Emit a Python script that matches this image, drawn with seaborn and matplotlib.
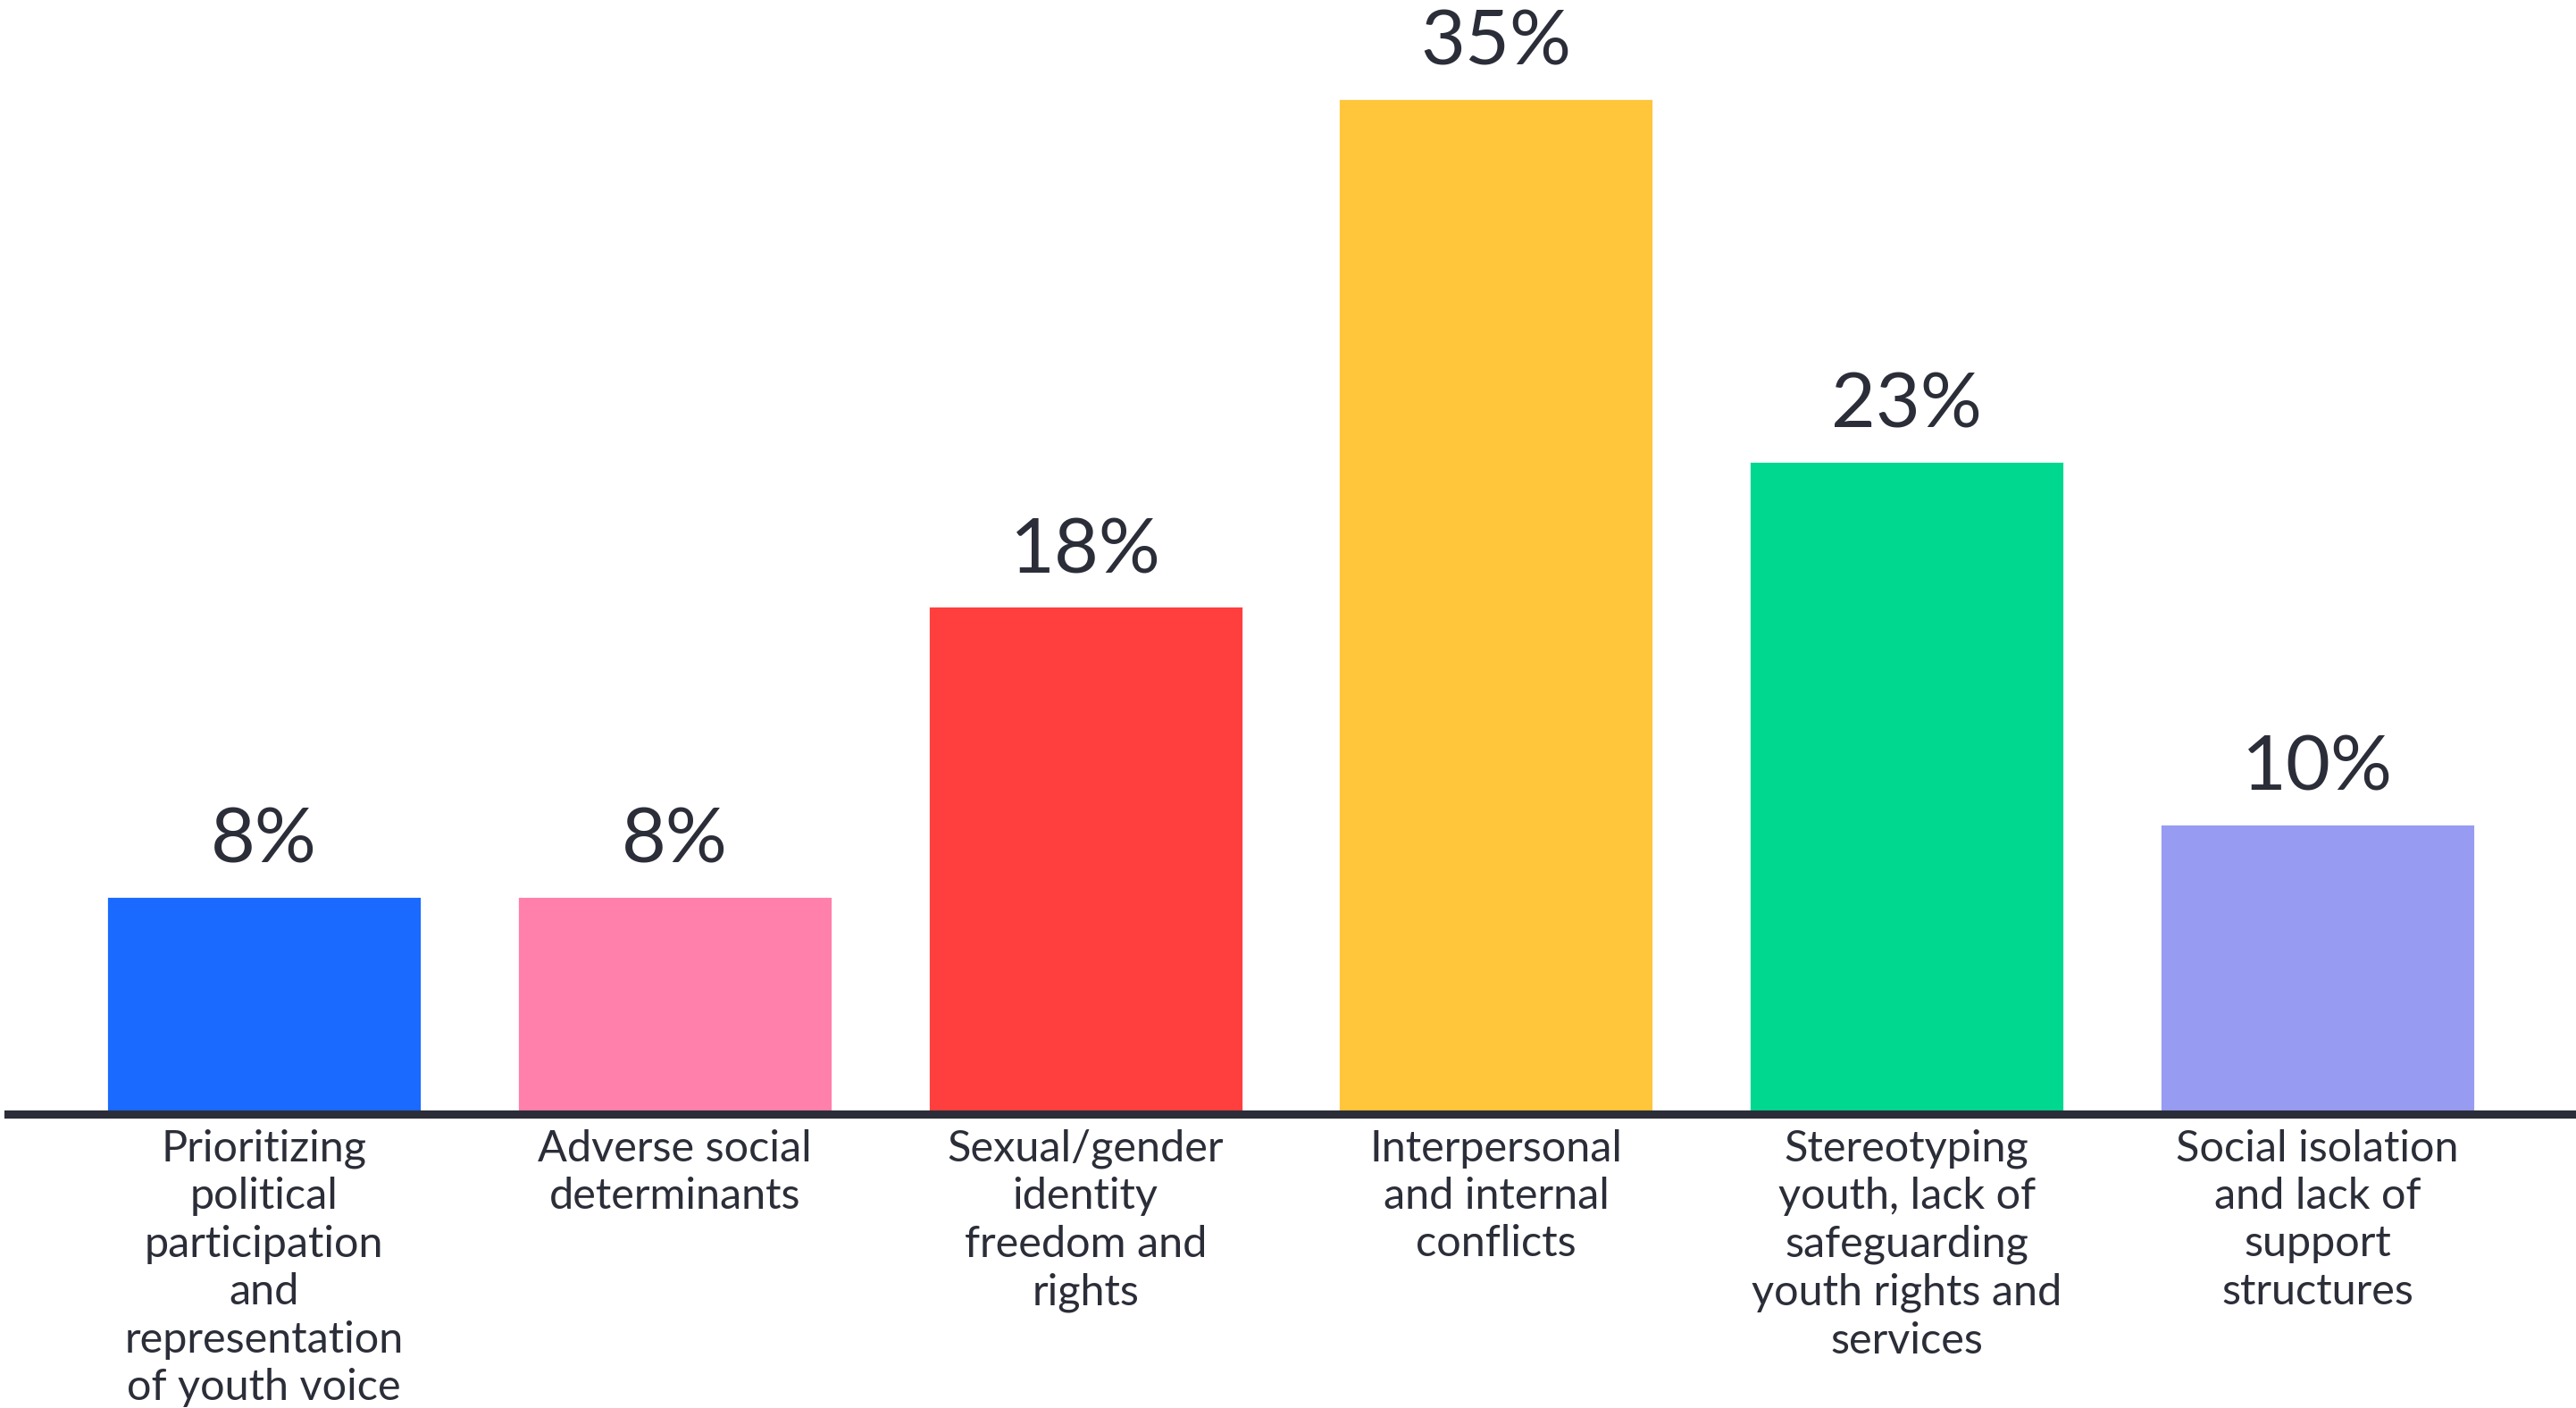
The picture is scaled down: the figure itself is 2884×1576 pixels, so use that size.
import matplotlib
matplotlib.use("Agg")
import matplotlib.pyplot as plt
import seaborn as sns
import pandas as pd

categories = [
    "Prioritizing political participation and representation of youth voice",
    "Adverse social determinants",
    "Sexual/gender identity freedom and rights",
    "Interpersonal and internal conflicts",
    "Stereotyping youth, lack of safeguarding youth rights and services",
    "Social isolation and lack of support structures",
]
tickLabels = [
    "Prioritizing\npolitical\nparticipation\nand\nrepresentation\nof youth voice",
    "Adverse social\ndeterminants",
    "Sexual/gender\nidentity\nfreedom and\nrights",
    "Interpersonal\nand internal\nconflicts",
    "Stereotyping\nyouth, lack of\nsafeguarding\nyouth rights and\nservices",
    "Social isolation\nand lack of\nsupport\nstructures",
]
values = [7.5, 7.5, 17.5, 35, 22.5, 10]
valueLabels = ["8%", "8%", "18%", "35%", "23%", "10%"]
colors = ["#1a6aff", "#ff80aa", "#ff3e3e", "#ffc53b", "#00d890", "#979bf2"]

TEXTCOLOR = "#2b2e38"

sns.set_style("white")
plt.rcParams["font.family"] = ["Lato", "DejaVu Sans"]

df = pd.DataFrame({"category": categories, "value": values})

fig = plt.figure(figsize=(14.42, 7.88), dpi=200)
ax = fig.add_axes([0.0031, 0.2088, 0.9969, 0.7912])

sns.barplot(data=df, x="category", y="value", hue="category", palette=colors,
            legend=False, width=0.768, saturation=1, ax=ax)

for container, lab in zip(ax.containers, valueLabels):
    ax.bar_label(container, labels=[lab], padding=8, fontsize=31, color=TEXTCOLOR)

ax.set_xlim(-0.624, 5.63)
ax.set_ylim(0, 38.37)
ax.set_xticks(range(len(tickLabels)))
ax.set_xticklabels(tickLabels, fontsize=17.5, color=TEXTCOLOR, linespacing=1.26, va="top")
ax.tick_params(axis="x", length=0, pad=6)
ax.set_yticks([])
ax.set_xlabel("")
ax.set_ylabel("")

for side in ["top", "right", "left"]:
    ax.spines[side].set_visible(False)
ax.spines["bottom"].set_color(TEXTCOLOR)
ax.spines["bottom"].set_linewidth(3.3)

fig.savefig("out.png", dpi=200)
